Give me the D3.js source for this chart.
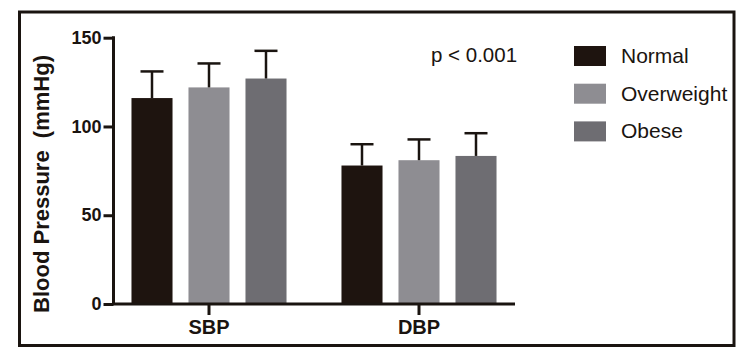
<!DOCTYPE html>
<html>
<head>
<meta charset="utf-8">
<script src="https://cdn.jsdelivr.net/npm/d3@7"></script>
<style>
  html, body { margin: 0; padding: 0; background: #fff; }
  svg { display: block; font-family: "Liberation Sans", Arial, sans-serif; }
</style>
</head>
<body>
<div id="chart"></div>
<script>
// Blood pressure by BMI group, grouped bars with SD whiskers
const groups = ["SBP", "DBP"];
const series = ["Normal", "Overweight", "Obese"];
const means = {
  SBP: [116, 122, 127],
  DBP: [78, 81, 83.4]
};
const sds = {
  SBP: [15, 13.5, 15.6],
  DBP: [12, 11.7, 12.8]
};
const yTicks = [0, 50, 100, 150];
const colors = ["#1e140f", "#8e8d92", "#6e6d72"];

const width = 750, height = 358;

const svg = d3.select("#chart").append("svg")
    .attr("width", width)
    .attr("height", height);

// outer frame
svg.append("rect")
    .attr("x", 19.5).attr("y", 12)
    .attr("width", 714.5).attr("height", 333.5)
    .attr("fill", "none")
    .attr("stroke", "#1a1410")
    .attr("stroke-width", 3);

const y = d3.scaleLinear().domain([0, 150]).range([304, 37.7]);
const x0 = d3.scaleBand().domain(groups).range([104, 524]);
const x1 = d3.scaleBand().domain(series).range([0, 171])
    .paddingInner(0.28).paddingOuter(0.14);
const axisX = 113.5;

// bars
const rows = groups.flatMap(g => series.map((s, i) => ({
  g, s, i, mean: means[g][i], sd: sds[g][i]
})));
const barX = d => x0(d.g) + x0.bandwidth() / 2 - 85.5 + x1(d.s);

svg.append("g").selectAll("rect")
  .data(rows)
  .join("rect")
    .attr("x", barX)
    .attr("y", d => y(d.mean))
    .attr("width", x1.bandwidth())
    .attr("height", d => y(0) - y(d.mean))
    .attr("fill", d => colors[d.i]);

// error bars (upper only)
const err = svg.append("g")
    .attr("stroke", "#1a1410")
    .attr("stroke-width", 2.5)
  .selectAll("g")
  .data(rows)
  .join("g");
err.append("line")
    .attr("x1", d => barX(d) + x1.bandwidth() / 2)
    .attr("x2", d => barX(d) + x1.bandwidth() / 2)
    .attr("y1", d => y(d.mean))
    .attr("y2", d => y(d.mean + d.sd));
err.append("line")
    .attr("x1", d => barX(d) + x1.bandwidth() / 2 - 11.5)
    .attr("x2", d => barX(d) + x1.bandwidth() / 2 + 11.5)
    .attr("y1", d => y(d.mean + d.sd))
    .attr("y2", d => y(d.mean + d.sd));

// y axis
const gy = svg.append("g")
    .attr("transform", `translate(${axisX},0)`)
    .call(d3.axisLeft(y).tickValues(yTicks).tickSize(10).tickSizeOuter(0).tickPadding(2));
gy.selectAll("path, line").attr("stroke", "#1a1410").attr("stroke-width", 3);
gy.select(".domain").attr("d", `M0,${y(150) - 1.5}V${y(0)}`);
gy.selectAll("text")
    .attr("fill", "#1a1410")
    .style("font-size", "18px")
    .style("font-weight", "bold")
    .style("font-family", "'Liberation Sans', Arial, sans-serif");

// x axis
const gx = svg.append("g")
    .attr("transform", `translate(0,${y(0)})`)
    .call(d3.axisBottom(x0).tickSize(11).tickSizeOuter(0).tickPadding(5));
gx.selectAll("path, line").attr("stroke", "#1a1410").attr("stroke-width", 3);
gx.select(".domain").attr("d", `M${axisX - 1.5},0H515`);
gx.selectAll("text")
    .attr("fill", "#1a1410")
    .style("font-size", "20px")
    .style("font-weight", "bold")
    .style("font-family", "'Liberation Sans', Arial, sans-serif");

// y axis title
svg.append("text")
    .attr("transform", "translate(49,184) rotate(-90)")
    .attr("text-anchor", "middle")
    .attr("fill", "#1a1410")
    .style("font-size", "22px")
    .style("font-weight", "bold")
    .style("white-space", "pre")
    .text("Blood Pressure  (mmHg)");

// p-value
svg.append("text")
    .attr("x", 431)
    .attr("y", 62)
    .attr("fill", "#1a1410")
    .style("font-size", "20.5px")
    .text("p < 0.001");

// legend
const legend = svg.append("g")
    .attr("transform", "translate(574,46)")
  .selectAll("g")
  .data(series)
  .join("g")
    .attr("transform", (d, i) => `translate(0,${i * 37.7})`);
legend.append("rect")
    .attr("width", 32)
    .attr("height", 20)
    .attr("fill", (d, i) => colors[i]);
legend.append("text")
    .attr("x", 47)
    .attr("y", 17)
    .attr("fill", "#1a1410")
    .style("font-size", "21px")
    .text(d => d);
</script>
</body>
</html>
